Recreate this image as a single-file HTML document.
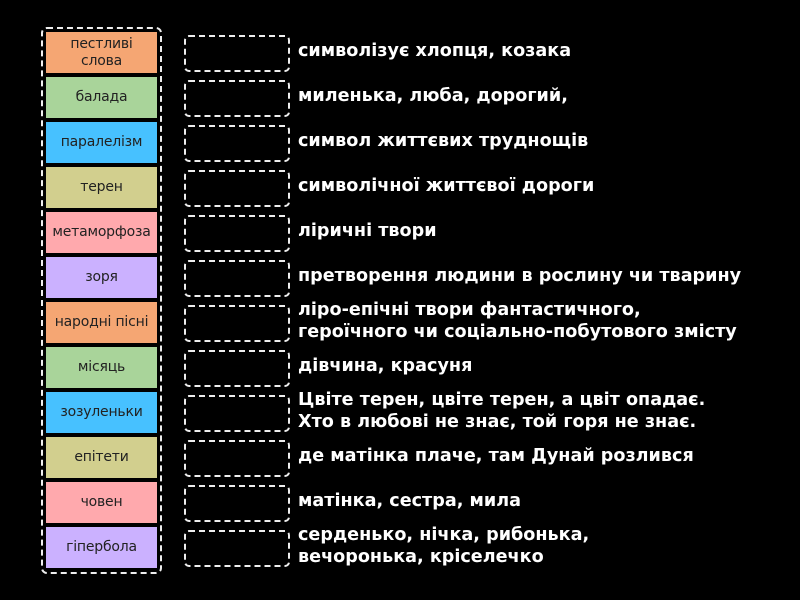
<!DOCTYPE html>
<html><head><meta charset="utf-8"><style>
body{margin:0;width:800px;height:600px;background:#000;position:relative;overflow:hidden;font-family:"DejaVu Sans","Liberation Sans",sans-serif}
.outer{position:absolute;left:41px;top:27px;width:117px;height:543px;border:2px dashed #eee;border-radius:6px}
.t{position:absolute;left:46px;width:111px;height:41px;display:flex;align-items:center;justify-content:center;text-align:center;font-size:14px;color:#222;line-height:17px;white-space:nowrap;letter-spacing:-0.2px}
.b{position:absolute;left:184px;width:102px;height:33px;border:2px dashed #eee;border-radius:5px}
.x{position:absolute;left:298px;color:#fff;font-weight:bold;font-size:17.6px;line-height:22px;white-space:nowrap}
</style></head><body>
<div class="outer"></div>
<div class="t" style="top:32px;background:#f5a673">пестливі<br>слова</div>
<div class="t" style="top:77px;background:#a9d49a">балада</div>
<div class="t" style="top:122px;background:#47c1ff">паралелізм</div>
<div class="t" style="top:167px;background:#d2cf8e">терен</div>
<div class="t" style="top:212px;background:#ffa9ad">метаморфоза</div>
<div class="t" style="top:257px;background:#cbb1ff">зоря</div>
<div class="t" style="top:302px;background:#f5a673">народні пісні</div>
<div class="t" style="top:347px;background:#a9d49a">місяць</div>
<div class="t" style="top:392px;background:#47c1ff">зозуленьки</div>
<div class="t" style="top:437px;background:#d2cf8e">епітети</div>
<div class="t" style="top:482px;background:#ffa9ad">човен</div>
<div class="t" style="top:527px;background:#cbb1ff">гіпербола</div>

<div class="b" style="top:35px"></div>
<div class="b" style="top:80px"></div>
<div class="b" style="top:125px"></div>
<div class="b" style="top:170px"></div>
<div class="b" style="top:215px"></div>
<div class="b" style="top:260px"></div>
<div class="b" style="top:305px"></div>
<div class="b" style="top:350px"></div>
<div class="b" style="top:395px"></div>
<div class="b" style="top:440px"></div>
<div class="b" style="top:485px"></div>
<div class="b" style="top:530px"></div>

<div class="x" style="top:40px">символізує хлопця, козака</div>
<div class="x" style="top:85px">миленька, люба, дорогий,</div>
<div class="x" style="top:130px">символ життєвих труднощів</div>
<div class="x" style="top:175px">символічної життєвої дороги</div>
<div class="x" style="top:220px">ліричні твори</div>
<div class="x" style="top:265px">претворення людини в рослину чи тварину</div>
<div class="x" style="top:299px">ліро-епічні твори фантастичного,<br>героїчного чи соціально-побутового змісту</div>
<div class="x" style="top:355px">дівчина, красуня</div>
<div class="x" style="top:389px">Цвіте терен, цвіте терен, а цвіт опадає.<br>Хто в любові не знає, той горя не знає.</div>
<div class="x" style="top:445px">де матінка плаче, там Дунай розлився</div>
<div class="x" style="top:490px">матінка, сестра, мила</div>
<div class="x" style="top:524px">серденько, нічка, рибонька,<br>вечоронька, кріселечко</div>
</body></html>
